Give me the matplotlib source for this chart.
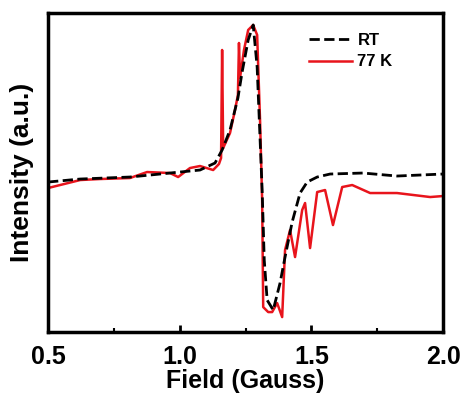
import matplotlib.pyplot as plt

plt.rcParams['font.family'] = ['Liberation Sans', 'DejaVu Sans']
plt.rcParams['font.weight'] = 'bold'

# 77 K spectrum (red, solid)
field_77k = [0.500, 0.622, 0.697, 0.811, 0.876, 0.963, 0.994, 1.039, 1.077, 1.127,
             1.149, 1.157, 1.161, 1.165, 1.191, 1.210, 1.221, 1.225, 1.229, 1.244,
             1.260, 1.279, 1.294, 1.305, 1.313, 1.317, 1.336, 1.351, 1.370, 1.389,
             1.400, 1.419, 1.438, 1.465, 1.476, 1.495, 1.522, 1.552, 1.582, 1.617,
             1.655, 1.723, 1.825, 1.951, 2.000]
int_77k = [144, 152, 153, 154, 160, 159, 155, 164, 166, 162,
           168, 174, 282, 184, 199, 222, 237, 289, 254, 282,
           302, 307, 297, 212, 132, 25, 20, 20, 29, 15,
           82, 102, 75, 122, 129, 84, 140, 142, 107, 145,
           147, 139, 139, 135, 136]

# room temperature spectrum (black, dashed)
field_rt = [0.500, 0.622, 0.811, 0.963, 1.077, 1.134, 1.161, 1.191, 1.221, 1.237,
            1.260, 1.279, 1.294, 1.313, 1.321, 1.332, 1.355, 1.381, 1.400, 1.427,
            1.457, 1.484, 1.522, 1.571, 1.696, 1.825, 2.000]
int_rt = [150, 153, 155, 159, 162, 169, 182, 202, 234, 260,
          292, 307, 265, 142, 72, 32, 22, 49, 75, 110,
          139, 150, 155, 158, 159, 156, 158]

fig = plt.figure(figsize=(4.62, 3.93), dpi=100)
ax = fig.add_axes([0.104, 0.155, 0.855, 0.812])

ax.plot(field_rt, int_rt, color='black', linestyle='--', linewidth=2, label='RT', zorder=3)
ax.plot(field_77k, int_77k, color='#e8141c', linewidth=1.8, label='77 K', zorder=2)

ax.set_xlim(0.5, 2.0)
ax.set_ylim(0, 319)
ax.set_xticks([0.5, 1.0, 1.5, 2.0])
ax.set_xticks([0.75, 1.25, 1.75], minor=True)
ax.set_yticks([])
ax.tick_params(axis='x', which='major', direction='in', length=5, width=2, labelsize=18, pad=9)
ax.tick_params(axis='x', which='minor', direction='in', length=3, width=1.5)
for s in ax.spines.values():
    s.set_linewidth(2.5)

ax.set_xlabel('Field (Gauss)', fontsize=18, fontweight='bold', labelpad=0)
ax.set_ylabel('Intensity (a.u.)', fontsize=19, fontweight='bold', labelpad=10)

ax.legend(loc='upper right', bbox_to_anchor=(0.91, 0.985), frameon=False,
          handlelength=2.6, handletextpad=0.3, labelspacing=0.4,
          prop={'weight': 'bold', 'size': 12})

fig.savefig('out.png', dpi=100)
